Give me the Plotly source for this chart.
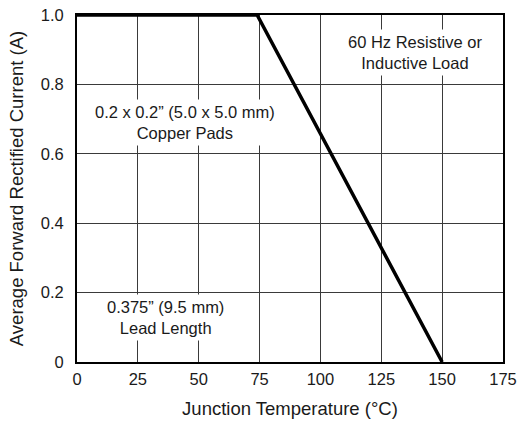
import plotly.graph_objects as go

temps = [0, 74, 150]
current = [1.0, 1.0, 0.0]
x_ticks = [0, 25, 50, 75, 100, 125, 150, 175]
y_ticks = [0, 0.2, 0.4, 0.6, 0.8, 1.0]
y_tick_labels = ["0", "0.2", "0.4", "0.6", "0.8", "1.0"]

font_family = "Liberation Sans, Arial, Helvetica, sans-serif"
text_color = "#1a1a1a"

fig = go.Figure()
fig.add_trace(go.Scatter(x=temps, y=current, mode="lines",
                         line=dict(color="black", width=3.5),
                         cliponaxis=False, showlegend=False, hoverinfo="skip"))

notes = [
    (44.4, 0.689, "0.2 x 0.2\u201d (5.0 x 5.0 mm)<br>Copper Pads"),
    (138.8, 0.892, "60 Hz Resistive or<br>Inductive Load"),
    (36.2, 0.128, "0.375\u201d (9.5 mm)<br>Lead Length"),
]
for x, y, t in notes:
    fig.add_annotation(x=x, y=y, text=t, showarrow=False, bgcolor="white",
                       borderpad=3, font=dict(size=16.5, color=text_color, family=font_family))

fig.update_layout(
    template="none",
    width=523, height=421,
    margin=dict(l=77, r=20, t=15, b=59),
    paper_bgcolor="white", plot_bgcolor="white",
    font=dict(family=font_family, size=16.5, color=text_color),
)
fig.update_xaxes(range=[0, 175], tickvals=x_ticks, showgrid=True, gridcolor="#3a3a3a",
                 gridwidth=1, showline=True, linecolor="black", linewidth=2, mirror=True,
                 ticks="", ticklabelstandoff=1, ticklabeloverflow="allow", zeroline=False,
                 automargin=False, tickfont=dict(size=16.5),
                 title=dict(text="Junction Temperature (\u00b0C)", font=dict(size=18.5), standoff=15))
fig.update_yaxes(range=[0, 1.0], tickvals=y_ticks, ticktext=y_tick_labels, showgrid=True,
                 gridcolor="#3a3a3a", gridwidth=1, showline=True, linecolor="black",
                 linewidth=2, mirror=True, ticks="", ticklabelstandoff=8, ticklabeloverflow="allow",
                 zeroline=False, automargin=False, tickfont=dict(size=16.5),
                 title=dict(text="Average Forward Rectified Current (A)", font=dict(size=18.5), standoff=12))

# Remove the page's default 8px body margin so the figure fills the window exactly.
fig.write_html("out.html", config={"displayModeBar": False},
               post_script="document.body.style.margin='0';")
